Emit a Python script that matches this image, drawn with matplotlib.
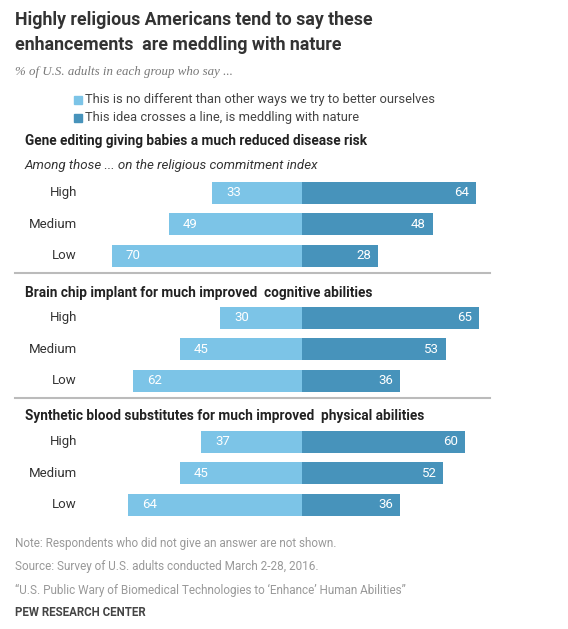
import matplotlib.pyplot as plt

plt.rcParams['font.family'] = ['Roboto', 'DejaVu Sans']

# Data
groups = ['High', 'Medium', 'Low']
panel_titles = [
    'Gene editing giving babies a much reduced disease risk',
    'Brain chip implant for much improved  cognitive abilities',
    'Synthetic blood substitutes for much improved  physical abilities',
]
no_different = [[33, 49, 70], [30, 45, 62], [37, 45, 64]]
crosses_line = [[64, 48, 28], [65, 53, 36], [60, 52, 36]]
legend_labels = ['This is no different than other ways we try to better ourselves',
                 'This idea crosses a line, is meddling with nature']

light = '#7cc4e7'
dark = '#4793bb'

W, H = 568, 629
fig = plt.figure(figsize=(W / 100, H / 100), dpi=100)

def fx(px):
    return px / W

def fy(py):
    return 1 - py / H

# pixel scale: center at x=302, 2.72 px per point
center, scale = 302, 2.72
xmin, xmax = -center / scale, (W - center) / scale

# Title and subtitle
fig.text(fx(15), fy(20), 'Highly religious Americans tend to say these', fontsize=12.8,
         fontweight='bold', color='#333333', va='center')
fig.text(fx(15), fy(45), 'enhancements  are meddling with nature', fontsize=12.8,
         fontweight='bold', color='#333333', va='center')
fig.text(fx(15), fy(72), '% of U.S. adults in each group who say ...', fontsize=9.3,
         family='Liberation Serif', style='italic', color='#777777', va='center')

# Legend
for i, (lab, col) in enumerate(zip(legend_labels, [light, dark])):
    y = 100 + i * 18
    fig.patches.append(plt.Rectangle((fx(74), fy(y + 4)), fx(8), 8 / H, color=col,
                                     transform=fig.transFigure))
    fig.text(fx(85), fy(y), lab, fontsize=9.3, color='#444444', va='center')

panel_tops = [177, 302, 426]
row_step = 31.5

for k in range(3):
    top = panel_tops[k]
    ax = fig.add_axes([0, fy(top + 3 * row_step), 1, 3 * row_step / H])
    ax.set_xlim(xmin, xmax)
    ax.set_ylim(2.5, -0.5)
    ax.axis('off')
    ys = range(len(groups))
    ax.barh(ys, [-v for v in no_different[k]], height=0.7, color=light)
    ax.barh(ys, crosses_line[k], height=0.7, color=dark)
    for j, g in enumerate(groups):
        ax.text(-no_different[k][j] + 14 / scale, j, str(no_different[k][j]), color='white',
                fontsize=9.5, ha='left', va='center')
        ax.text(crosses_line[k][j] - 7 / scale, j, str(crosses_line[k][j]), color='white',
                fontsize=9.5, ha='right', va='center')
        ax.text(-(center - 77) / scale, j, g, color='#333333', fontsize=9.5,
                ha='right', va='center')

# Panel titles
fig.text(fx(25), fy(141), panel_titles[0], fontsize=9.8, fontweight='bold',
         color='#222222', va='center')
fig.text(fx(25), fy(166), 'Among those ... on the religious commitment index', fontsize=9.6,
         style='italic', color='#333333', va='center')
fig.text(fx(25), fy(293), panel_titles[1], fontsize=9.8, fontweight='bold',
         color='#222222', va='center')
fig.text(fx(25), fy(416), panel_titles[2], fontsize=9.8, fontweight='bold',
         color='#222222', va='center')

# Separators
for y in [273, 398]:
    fig.add_artist(plt.Line2D([fx(15), fx(490)], [fy(y), fy(y)], color='#bbbbbb', lw=1.5))

# Footnotes
notes = ['Note: Respondents who did not give an answer are not shown.',
         'Source: Survey of U.S. adults conducted March 2-28, 2016.',
         '\u201cU.S. Public Wary of Biomedical Technologies to \u2018Enhance\u2019 Human Abilities\u201d']
for i, n in enumerate(notes):
    fig.text(fx(15), fy(543 + 23.5 * i), n, fontsize=8.5, color='#999999', va='center')
fig.text(fx(15), fy(613), 'PEW RESEARCH CENTER', fontsize=8.3, fontweight='bold',
         color='#444444', va='center')

plt.savefig('out.png', dpi=100)
